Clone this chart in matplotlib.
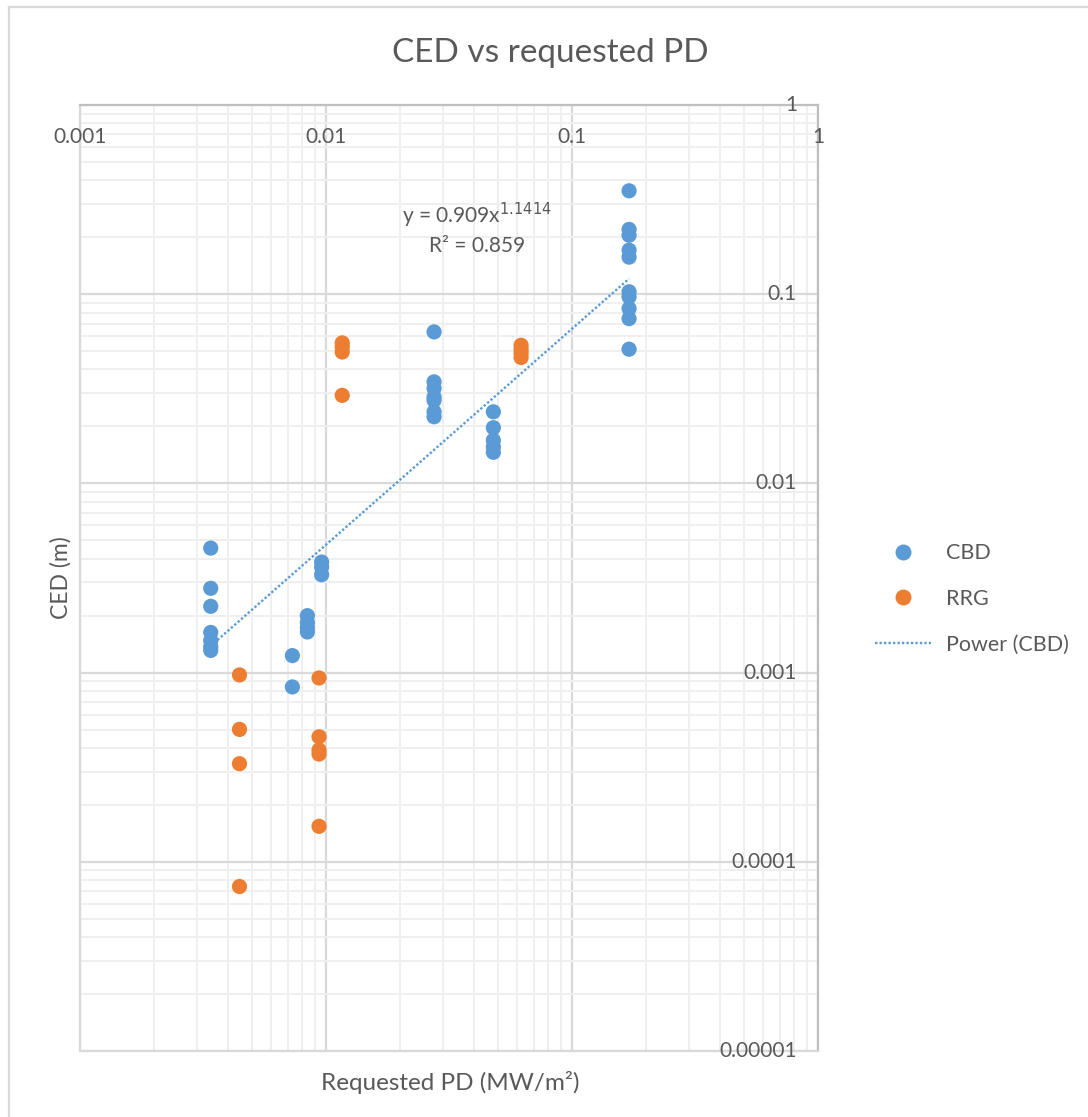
import numpy as np
import matplotlib
matplotlib.use("Agg")
import matplotlib.pyplot as plt
from matplotlib.lines import Line2D
from matplotlib.ticker import LogLocator, NullFormatter

plt.rcParams['font.family'] = ['Lato', 'DejaVu Sans']

# ---- data ----
cbd_pd = ([0.0034] * 7 + [0.0073] * 2 + [0.0084] * 4 + [0.0096] * 3
          + [0.0275] * 7 + [0.0479] * 5 + [0.1706] * 10)
cbd_ced = [0.00455, 0.00279, 0.00224, 0.00163, 0.00148, 0.00137, 0.00131,
           0.00123, 0.00084,
           0.0020, 0.00184, 0.00173, 0.00164,
           0.00384, 0.00361, 0.00329,
           0.0632, 0.0344, 0.0318, 0.0286, 0.0275, 0.0239, 0.0225,
           0.0239, 0.0197, 0.0169, 0.0156, 0.0146,
           0.352, 0.220, 0.205, 0.171, 0.157, 0.103, 0.0968, 0.084, 0.0743, 0.0512]

rrg_pd = [0.00445] * 4 + [0.00937] * 5 + [0.01164] * 4 + [0.0621] * 4
rrg_ced = [0.000972, 0.000501, 0.000330, 0.0000740,
           0.000937, 0.000458, 0.00039, 0.000371, 0.000154,
           0.0553, 0.0526, 0.0495, 0.0292,
           0.0537, 0.0511, 0.0487, 0.0463]

# power-law trendline for CBD: y = a * x^b
fit_a = 0.909
fit_b = 1.1414
fit_r2 = 0.859

x_ticks = [0.001, 0.01, 0.1, 1]
x_tick_labels = ["0.001", "0.01", "0.1", "1"]
y_ticks = [1, 0.1, 0.01, 0.001, 0.0001, 0.00001]
y_tick_labels = ["1", "0.1", "0.01", "0.001", "0.0001", "0.00001"]

# ---- styling ----
BLUE = "#5B9BD5"
ORANGE = "#ED7D31"
TEXT = "#595959"
GRID_MAJOR = "#D9D9D9"
GRID_MINOR = "#EFEFEF"
AXIS_LINE = "#BFBFBF"

W, H = 1088, 1117
fig = plt.figure(figsize=(W / 100, H / 100), dpi=100)
fig.patch.set_facecolor("white")

# chart-area border (top and left edges)
fig.add_artist(Line2D([9 / W, 1], [1 - 7 / H, 1 - 7 / H], color=GRID_MAJOR, lw=1.6,
                      transform=fig.transFigure))
fig.add_artist(Line2D([9 / W, 9 / W], [0, 1 - 7 / H], color=GRID_MAJOR, lw=1.6,
                      transform=fig.transFigure))

left, right, top, bottom = 80, 818, 105, 1051
ax = fig.add_axes([left / W, 1 - bottom / H, (right - left) / W, (bottom - top) / H])
ax.set_xscale("log")
ax.set_yscale("log")
ax.set_xlim(0.001, 1)
ax.set_ylim(0.00001, 1)

ax.xaxis.set_major_locator(LogLocator(base=10, numticks=10))
ax.yaxis.set_major_locator(LogLocator(base=10, numticks=10))
ax.xaxis.set_minor_locator(LogLocator(base=10, subs=np.arange(2, 10), numticks=20))
ax.yaxis.set_minor_locator(LogLocator(base=10, subs=np.arange(2, 10), numticks=20))
ax.grid(which="minor", color=GRID_MINOR, lw=1.4, zorder=0)
ax.grid(which="major", color=GRID_MAJOR, lw=1.6, zorder=0)
ax.set_axisbelow(True)
ax.tick_params(which="both", length=0, labelbottom=False, labelleft=False,
               labeltop=False, labelright=False)
ax.xaxis.set_minor_formatter(NullFormatter())
ax.yaxis.set_minor_formatter(NullFormatter())

for side in ("left", "bottom"):
    ax.spines[side].set_color(GRID_MAJOR)
    ax.spines[side].set_linewidth(1.6)
for side in ("top", "right"):
    ax.spines[side].set_color(AXIS_LINE)
    ax.spines[side].set_linewidth(1.6)

# tick labels drawn inside the plot, hugging the top and right axis lines
xlab_y = (bottom - 137) / (bottom - top)
for v, s in zip(x_ticks, x_tick_labels):
    ax.text(v, xlab_y, s, transform=ax.get_xaxis_transform(), ha="center",
            va="center", fontsize=15, color=TEXT, clip_on=False)
ylab_x = (797 - left) / (right - left)
for v, s in zip(y_ticks, y_tick_labels):
    ax.text(ylab_x, v, s, transform=ax.get_yaxis_transform(), ha="right",
            va="center", fontsize=15, color=TEXT, clip_on=False)

# data
ax.scatter(cbd_pd, cbd_ced, s=120, color=BLUE, edgecolors="none", zorder=3, label="CBD")
ax.scatter(rrg_pd, rrg_ced, s=120, color=ORANGE, edgecolors="none", zorder=3, label="RRG")

xf = np.logspace(np.log10(min(cbd_pd)), np.log10(max(cbd_pd)), 200)
ax.plot(xf, fit_a * xf ** fit_b, color=BLUE, lw=1.7, linestyle=(0, (1, 0.9)),
        zorder=4, label="Power (CBD)")

ax.text(0.0411, 0.262, f"y = {fit_a}x$^{{{fit_b}}}$", ha="center", va="center",
        fontsize=15, color=TEXT)
ax.text(0.0411, 0.1795, f"R² = {fit_r2}", ha="center", va="center",
        fontsize=15, color=TEXT)

# title and axis titles
fig.text(550 / W, 1 - 53 / H, "CED vs requested PD", ha="center", va="center",
         fontsize=24, color=TEXT)
fig.text(450 / W, 1 - 1082 / H, "Requested PD (MW/m²)", ha="center", va="center",
         fontsize=17.5, color=TEXT)
fig.text(61 / W, 1 - 578 / H, "CED (m)", ha="center", va="center", rotation=90,
         fontsize=16.5, color=TEXT)

# legend
handles = [
    Line2D([], [], marker="o", linestyle="none", markersize=11.5, color=BLUE,
           markeredgewidth=0),
    Line2D([], [], marker="o", linestyle="none", markersize=11.5, color=ORANGE,
           markeredgewidth=0),
    Line2D([], [], color=BLUE, lw=1.7, linestyle=(0, (1, 0.9))),
]
fig.legend(handles, ["CBD", "RRG", "Power (CBD)"], loc="center left",
           bbox_to_anchor=(866 / W, 1 - 599 / H), frameon=False, fontsize=15.5,
           labelcolor=TEXT, handlelength=2.6, handletextpad=0.7, labelspacing=1.2,
           borderaxespad=0)

fig.savefig("out.png", dpi=100)
